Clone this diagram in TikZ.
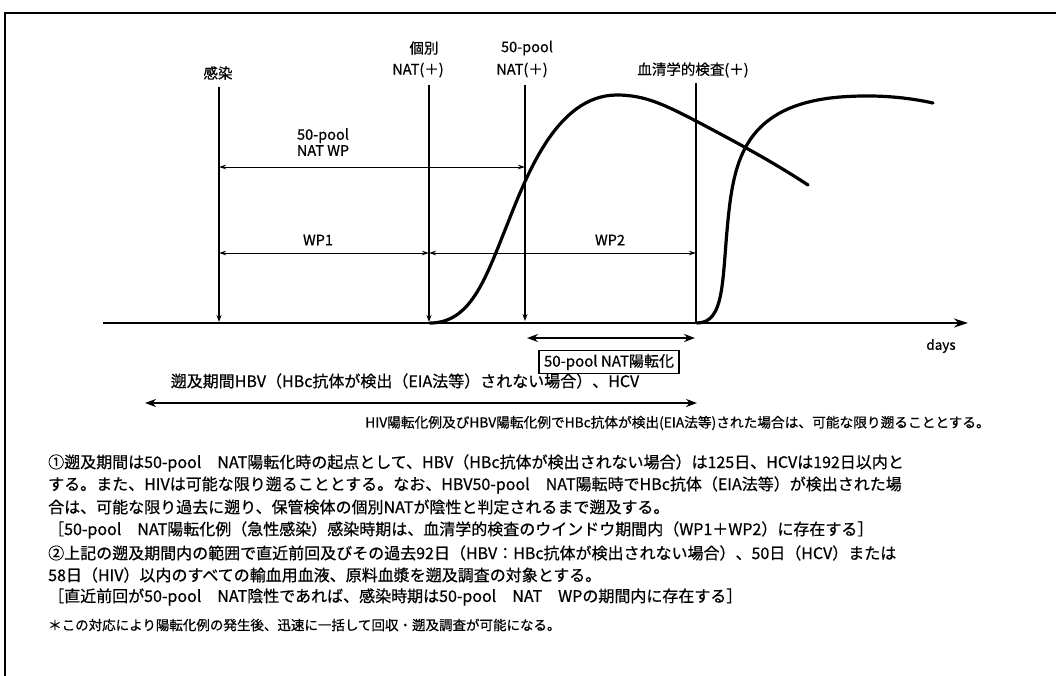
\documentclass[tikz,border=0pt]{standalone}
\usepackage{fontspec}
\setmainfont{Noto Sans CJK JP}[FakeBold=0.6]
\usetikzlibrary{arrows.meta}
\begin{document}
\begin{tikzpicture}[x=1pt,y=-1pt,
  lbl/.style={inner sep=0pt, font=\fontsize{14.5}{16}\selectfont},
  para/.style={inner sep=0pt, anchor=west, font=\fontsize{16}{18}\selectfont},
  vline/.style={line width=1.1pt, -{Stealth[length=7pt,width=5pt]}},
  dim/.style={line width=1pt, {Stealth[length=7pt,width=4.5pt]}-{Stealth[length=7pt,width=4.5pt]}},
  bigdim/.style={line width=2pt, {Stealth[length=11pt,width=8pt]}-{Stealth[length=11pt,width=8pt]}},
  curve/.style={line width=3.2pt, line cap=round},
  frame/.style={line width=2pt}]
\useasboundingbox (0,0) rectangle (1056,675);
% frame
\draw[frame] (5,680) -- (5,13) -- (1060,13);
% axis
\coordinate (ax0) at (103,323);
\coordinate (ax1) at (968,323);
\draw[line width=2pt, -{Stealth[length=14pt,width=9pt]}] (ax0) -- (ax1);
\node[lbl, font=\fontsize{13.5}{15}\selectfont] (days) at (941,346) {days};
% vertical markers
\node[lbl] (kansen) at (218,73) {感染};
\node[lbl] (kobetsu) at (424,48) {個別};
\node[lbl] (natA) at (418,70) {NAT(＋)};
\node[lbl] (pool) at (527,48) {50-pool};
\node[lbl] (natB) at (522,70) {NAT(＋)};
\node[lbl] (sero) at (693,70) {血清学的検査(＋)};
\coordinate (t1) at (219,87);  \coordinate (b1) at (219,322);
\coordinate (t2) at (429,85);  \coordinate (b2) at (429,322);
\coordinate (t3) at (525,85);  \coordinate (b3) at (525,321);
\coordinate (t4) at (696,83);  \coordinate (b4) at (696,322);
\draw[vline] (t1) -- (b1);
\draw[vline] (t2) -- (b2);
\draw[vline] (t3) -- (b3);
\draw[line width=1.1pt] (t4) -- (b4);
% dimension arrows
\coordinate (w0a) at (219,167); \coordinate (w0b) at (525,167);
\coordinate (w1a) at (219,253); \coordinate (w1b) at (429,253);
\coordinate (w2a) at (429,253); \coordinate (w2b) at (696,253);
\draw[dim] (w0a) -- (w0b);
\draw[dim] (w1a) -- (w1b);
\draw[dim] (w2a) -- (w2b);
\node[lbl, align=center] (natwp) at (323,142) {50-pool\\NAT WP};
\node[lbl] (wp1) at (318,240) {WP1};
\node[lbl] (wp2) at (610,240) {WP2};
% curves
\draw[curve] (430,323) .. controls (470,323) and (485,280) .. (505,230)
  .. controls (525,180) and (555,95) .. (617,95)
  .. controls (645,95) and (665,105) .. (696,121)
  .. controls (730,139) and (770,160) .. (808,185);
\draw[curve] (697,323) .. controls (725,323) and (722,280) .. (728,220)
  .. controls (734,160) and (745,105) .. (840,97)
  .. controls (880,94) and (910,98) .. (933,103);
% lower arrows
\coordinate (p0) at (527,338); \coordinate (p1) at (695,338);
\draw[bigdim] (p0) -- (p1);
\node[draw, line width=1.2pt, inner xsep=5pt, inner ysep=3.5pt, font=\fontsize{15}{17}\selectfont] (conv) at (609,362) {50-pool NAT陽転化};
\node[lbl, font=\fontsize{16}{18}\selectfont] (sokyu) at (405,381) {遡及期間HBV（HBc抗体が検出（EIA法等）されない場合）、HCV};
\coordinate (s0) at (145,403); \coordinate (s1) at (697,403);
\draw[bigdim] (s0) -- (s1);
\node[lbl, anchor=east, font=\fontsize{13.7}{15}\selectfont] (hiv) at (990,423) {HIV陽転化例及びHBV陽転化例でHBc抗体が検出(EIA法等)された場合は、可能な限り遡ることとする。};
% paragraph
\node[para] (l1) at (48,463) {①遡及期間は50-pool　NAT陽転化時の起点として、HBV（HBc抗体が検出されない場合）は125日、HCVは192日以内と};
\node[para] (l2) at (48,485) {する。また、HIVは可能な限り遡ることとする。なお、HBV50-pool　NAT陽転時でHBc抗体（EIA法等）が検出された場};
\node[para] (l3) at (48,507) {合は、可能な限り過去に遡り、保管検体の個別NATが陰性と判定されるまで遡及する。};
\node[para] (l4) at (48,530) {［50-pool　NAT陽転化例（急性感染）感染時期は、血清学的検査のウインドウ期間内（WP1＋WP2）に存在する］};
\node[para] (l5) at (48,553) {②上記の遡及期間内の範囲で直近前回及びその過去92日（HBV：HBc抗体が検出されない場合）、50日（HCV）または};
\node[para] (l6) at (48,575) {58日（HIV）以内のすべての輸血用血液、原料血漿を遡及調査の対象とする。};
\node[para] (l7) at (48,597) {［直近前回が50-pool　NAT陰性であれば、感染時期は50-pool　NAT　WPの期間内に存在する］};
\node[para, font=\fontsize{13.5}{16}\selectfont] (l8) at (48,625) {＊この対応により陽転化例の発生後、迅速に一括して回収・遡及調査が可能になる。};
\end{tikzpicture}
\end{document}
